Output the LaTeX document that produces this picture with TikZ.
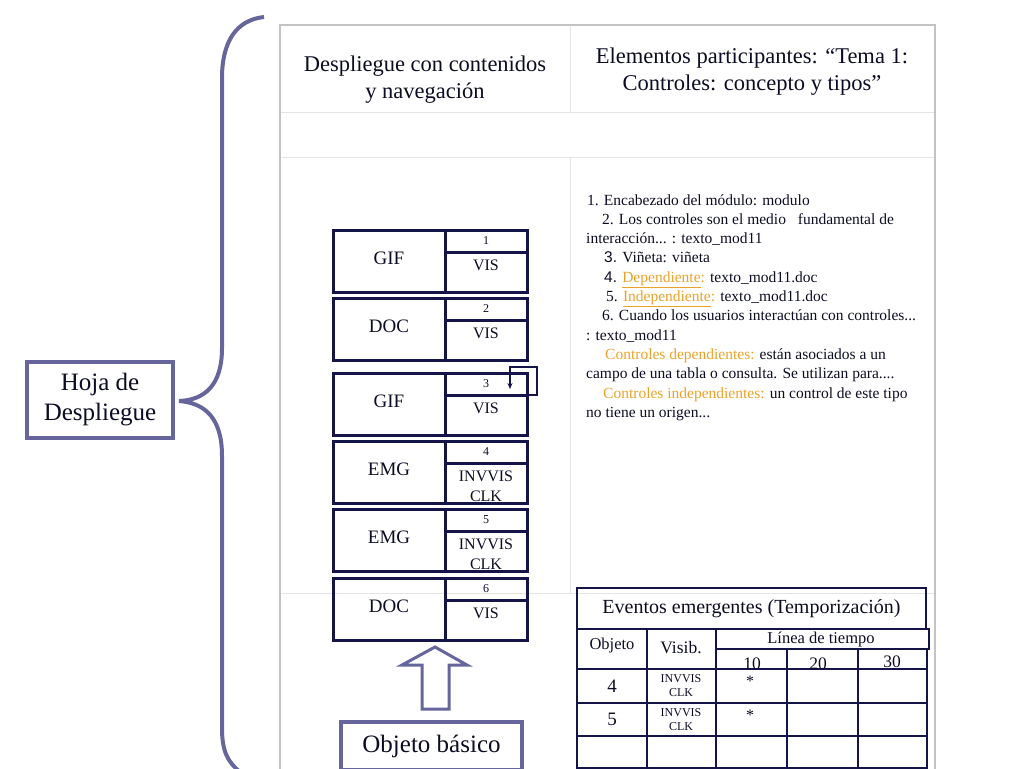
\documentclass[tikz,border=0pt]{standalone}
\usepackage{fontspec}
\setmainfont{Liberation Serif}
\newfontfamily\arialf{Liberation Sans}
\usetikzlibrary{calc,arrows.meta}
\definecolor{navy}{RGB}{20,20,72}
\definecolor{slate}{RGB}{102,102,156}
\definecolor{framegray}{RGB}{195,195,195}
\definecolor{linegray}{RGB}{228,228,228}
\definecolor{ink}{RGB}{12,12,36}
\definecolor{accent}{RGB}{236,162,40}
\tikzset{
  cellbox/.style={draw=navy, line width=3pt, inner sep=0pt, outer sep=0pt, anchor=north west},
  tcell/.style={draw=navy, line width=2pt, inner sep=0pt, outer sep=0pt, anchor=north west},
  lblL/.style={font=\fontsize{19}{21}\selectfont, inner sep=0pt},
  lblN/.style={font=\fontsize{12}{13}\selectfont, inner sep=0pt},
  lblV/.style={font=\fontsize{16}{20}\selectfont, align=center, anchor=north, inner sep=0pt},
  rt/.style={anchor=base west, font=\fontsize{15.5}{18}\selectfont, inner sep=0pt},
  slatebox/.style={draw=slate, line width=4pt, inner sep=0pt, fill=white, font=\fontsize{25}{30}\selectfont, align=center},
  hdr/.style={font=\fontsize{22.5}{27}\selectfont, align=center, inner sep=0pt},
  tt/.style={inner sep=0pt}
}
\newcommand{\objbox}[5]{%
  \node[cellbox, minimum width=112pt, minimum height=62pt] (#1L) at (333,#2) {};
  \node[cellbox, minimum width=82pt, minimum height=22pt] (#1N) at (445,#2) {};
  \node[cellbox, minimum width=82pt, minimum height=40pt] (#1V) at (#1N.south west) {};
  \node[lblL] (#1l) at ($(#1L.north)+(0,28)$) {#3};
  \node[lblN] (#1n) at (#1N.center) {#4};
  \node[lblV] (#1v) at ($(#1V.north)+(0,8)$) {#5};
}
\begin{document}
\begin{tikzpicture}[x=1pt,y=-1pt, every node/.style={text=ink}]
\useasboundingbox (0,0) rectangle (1024,768);
% frame
\draw[linegray, line width=1pt] (280,112) -- (935,112);
\draw[linegray, line width=1pt] (280,157) -- (935,157);
\draw[linegray, line width=1pt] (280,593) -- (935,593);
\draw[linegray, line width=1pt] (570,25) -- (570,112);
\draw[linegray, line width=1pt] (570,157) -- (570,593);
\draw[framegray, line width=1.5pt] (280,790) -- (280,25) -- (935,25) -- (935,790);
% headers
\node[hdr] (h1) at (425,80) {Despliegue con contenidos\\y navegación};
\node[hdr] (h2) at (752,72) {Elementos participantes: “Tema 1:\\Controles: concepto y tipos”};
% object boxes
\objbox{b1}{230}{GIF}{1}{VIS}
\objbox{b2}{298}{DOC}{2}{VIS}
\objbox{b3}{373}{GIF}{3}{VIS}
\objbox{b4}{441}{EMG}{4}{INVVIS\\CLK}
\objbox{b5}{509}{EMG}{5}{INVVIS\\CLK}
\objbox{b6}{578}{DOC}{6}{VIS}
% loop arrow on box 3
\draw[navy, line width=2pt, -{Stealth[length=6pt,width=5pt]}] (b3N.south east) -- ++(10,0) -- ++(0,-28) -- ++(-27,0) -- ++(0,22);
% Hoja de Despliegue
\node[slatebox, minimum width=146pt, minimum height=76pt] (hoja) at (100,400) {Hoja de\\Despliegue};
\draw[slate, line width=4pt] (264,17) .. controls (236,20) and (222,42) .. (222,78) -- (222,348) .. controls (222,385) and (205,400) .. (179,401) .. controls (205,403) and (222,418) .. (222,456) -- (222,728) .. controls (222,752) and (228,762) .. (240,772);
% Objeto basico
\node[slatebox, minimum width=181pt, minimum height=48pt] (ob) at (431.5,746) {Objeto básico};
\draw[slate, line width=3pt, fill=white, line join=miter] (435,647) -- (467,665) -- (449,665) -- (449,709) -- (422,709) -- (422,665) -- (402,665) -- cycle;
% right text
\node[rt] (r1) at (587,205) {1. Encabezado del módulo: modulo};
\node[rt] (r2) at (602,224) {2. Los controles son el medio\hspace{8pt} fundamental de};
\node[rt] (r3) at (586,243) {interacción... : texto\_mod11};
\node[rt] (r4) at (604,262) {{\arialf 3.} Viñeta: viñeta};
\node[rt] (r5) at (604,282) {{\arialf 4.} \textcolor{accent}{\underline{Dependiente}:} texto\_mod11.doc};
\node[rt] (r6) at (606,301) {5. \textcolor{accent}{\underline{Independiente}:} texto\_mod11.doc};
\node[rt] (r7) at (602,320) {6. Cuando los usuarios interactúan con controles...};
\node[rt] (r8) at (586,340) {: texto\_mod11};
\node[rt] (r9) at (605,359) {\textcolor{accent}{Controles dependientes:} están asociados a un};
\node[rt] (r10) at (586,378) {campo de una tabla o consulta. Se utilizan para....};
\node[rt] (r11) at (603,398) {\textcolor{accent}{Controles independientes:} un control de este tipo};
\node[rt] (r12) at (586,417) {no tiene un origen...};
% table
\node[tcell, minimum width=349pt, minimum height=41pt, font=\fontsize{20}{22}\selectfont] (ev) at (577,588) {Eventos emergentes (Temporización)};
\node[tcell, minimum width=70pt, minimum height=40pt] (cobj) at (577,629) {};
\node[tcell, minimum width=69pt, minimum height=40pt] (cvis) at (647,629) {};
\node[tcell, minimum width=213pt, minimum height=20pt] (clin) at (716,629) {};
\node[tcell, minimum width=71pt, minimum height=20pt] (t10) at (716,649) {};
\node[tcell, minimum width=71pt, minimum height=20pt] (t20) at (787,649) {};
\node[tcell, minimum width=69pt, minimum height=20pt] (t30) at (858,649) {};
\foreach \r/\y/\h in {1/669/34, 2/703/33, 3/736/32}{
  \foreach \c/\x/\w in {1/577/70, 2/647/69, 3/716/71, 4/787/71, 5/858/69}{
    \node[tcell, minimum width=\w pt, minimum height=\h pt] (d\r\c) at (\x,\y) {};
  }
}
\node[tt, font=\fontsize{16.5}{18}\selectfont] (xobj) at (612,646) {Objeto};
\node[tt, font=\fontsize{17.5}{19}\selectfont] (xvis) at (681,648) {Visib.};
\node[tt, font=\fontsize{16.5}{18}\selectfont] (xlin) at (821,640) {Línea de tiempo};
\node[tt, anchor=base, font=\fontsize{17.5}{19}\selectfont] (x10) at (752,669) {10};
\node[tt, anchor=base, font=\fontsize{17.5}{19}\selectfont] (x20) at (818,669) {20};
\node[tt, anchor=base, font=\fontsize{17.5}{19}\selectfont] (x30) at (892,667) {30};
\node[tt, font=\fontsize{19}{21}\selectfont] (o4) at (612,686) {4};
\node[tt, font=\fontsize{19}{21}\selectfont] (o5) at (612,719) {5};
\node[tt, font=\fontsize{12}{14}\selectfont, align=center] (v4) at (681,686) {INVVIS\\CLK};
\node[tt, font=\fontsize{12}{14}\selectfont, align=center] (v5) at (681,720) {INVVIS\\CLK};
\node[tt, font=\fontsize{16}{18}\selectfont] (s4) at (750,681) {*};
\node[tt, font=\fontsize{16}{18}\selectfont] (s5) at (750,715) {*};
\end{tikzpicture}
\end{document}
